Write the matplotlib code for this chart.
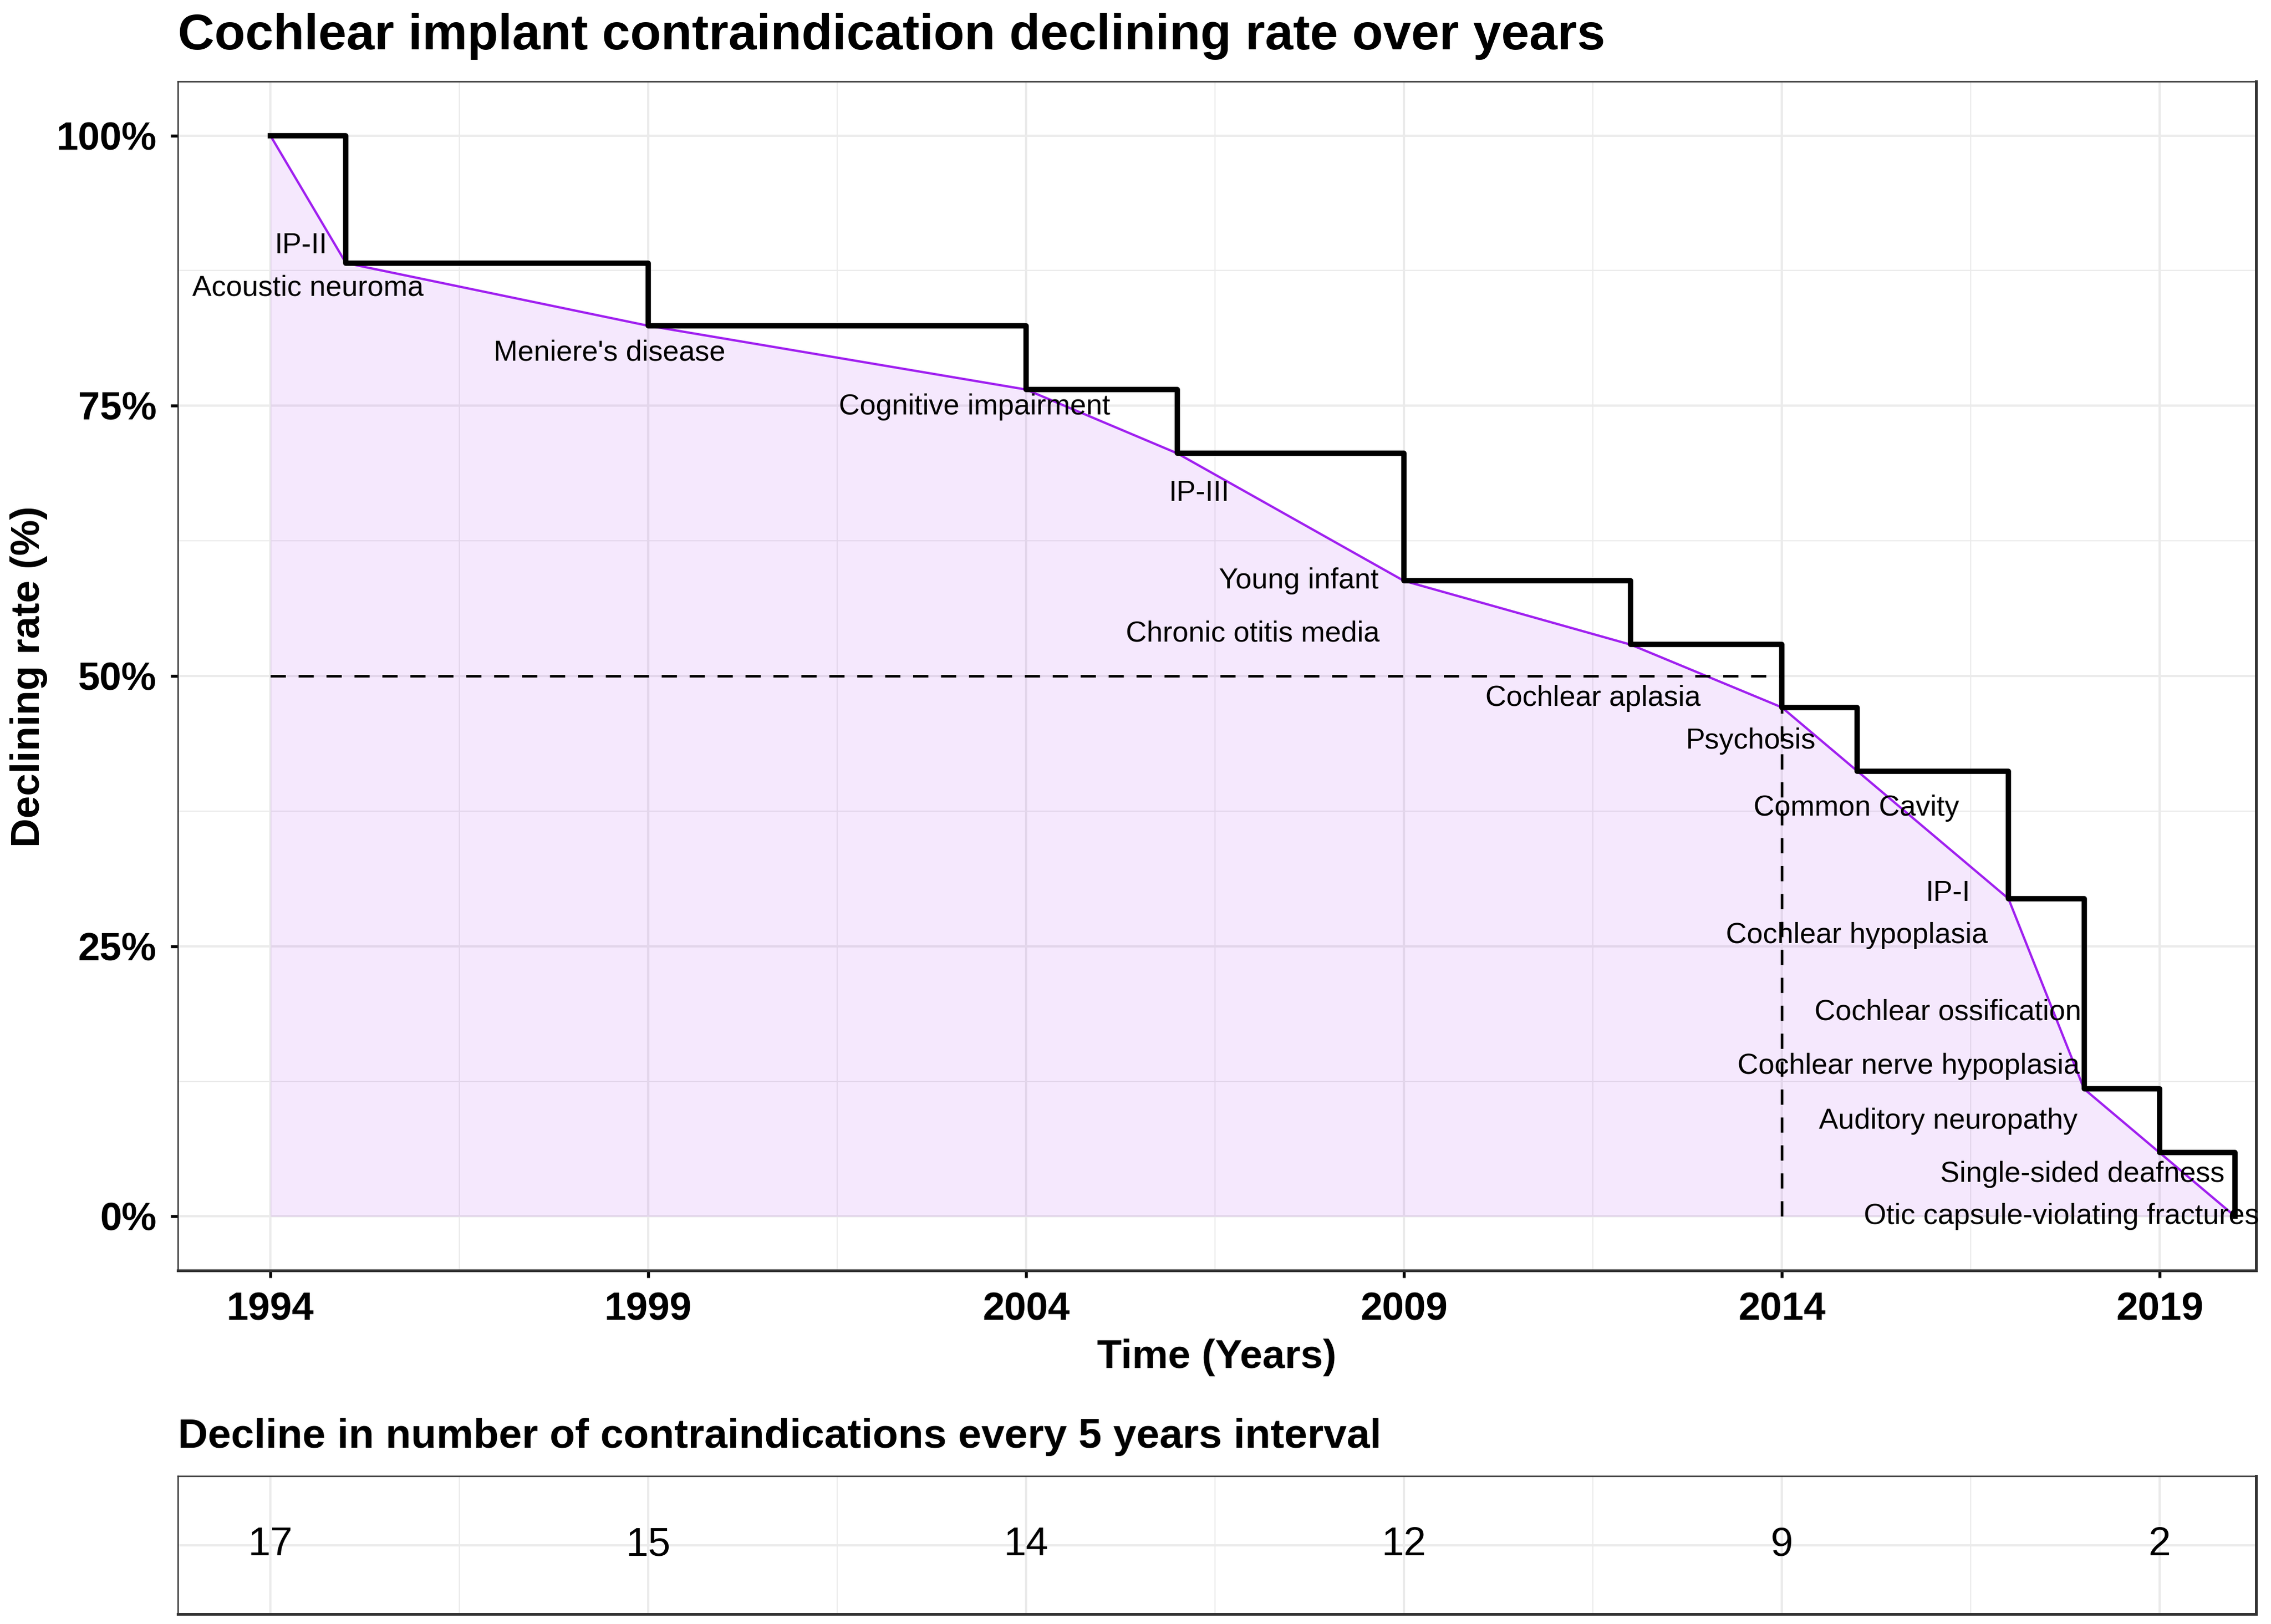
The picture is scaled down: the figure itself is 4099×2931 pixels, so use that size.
import matplotlib.pyplot as plt
import numpy as np

plt.rcParams['font.family'] = ['Liberation Sans', 'DejaVu Sans']

# share of the original 17 contraindications still in force (%)
years = [1994, 1995, 1999, 2004, 2006, 2009, 2012, 2014, 2015, 2017, 2018, 2019, 2020]
rate = [100, 88.2, 82.4, 76.5, 70.6, 58.8, 52.9, 47.1, 41.2, 29.4, 11.8, 5.9, 0]

# contraindication names, as placed on the chart
labels = ['IP-II', 'Acoustic neuroma', "Meniere's disease", 'Cognitive impairment',
          'IP-III', 'Young infant', 'Chronic otitis media', 'Cochlear aplasia',
          'Psychosis', 'Common Cavity', 'IP-I', 'Cochlear hypoplasia',
          'Cochlear ossification', 'Cochlear nerve hypoplasia', 'Auditory neuropathy',
          'Single-sided deafness', 'Otic capsule-violating fractures']
label_x = [1994.40, 1994.50, 1998.49, 2003.32, 2006.29, 2007.61, 2007.00, 2011.50,
           2013.59, 2014.99, 2016.20, 2014.99, 2016.20, 2015.68, 2016.20, 2017.98, 2017.70]
label_y = [89.8, 85.9, 79.9, 74.9, 66.9, 58.8, 53.9, 47.9,
           44.0, 37.8, 29.9, 26.0, 18.9, 13.9, 8.8, 3.9, 0.0]

# median survival marker
half_rate = 50
half_year = 2014

# remaining contraindications at each 5-year mark
interval_years = [1994, 1999, 2004, 2009, 2014, 2019]
interval_counts = [17, 15, 14, 12, 9, 2]

W, H = 4099, 2931
fig = plt.figure(figsize=(W / 300, H / 300), dpi=300)


def fx(px):
    return px / W


def fy(py):
    return 1 - py / H


left, right = 321, 4072
ax = fig.add_axes([fx(left), fy(2293), fx(right - left), (2293 - 147) / H])
ax2 = fig.add_axes([fx(left), fy(2913), fx(right - left), (2913 - 2664) / H])

xlim = (1992.776, 2020.276)
major_x = [1994, 1999, 2004, 2009, 2014, 2019]
minor_x = [1996.5, 2001.5, 2006.5, 2011.5, 2016.5]
grid_col = '#EBEBEB'
frame_col = '#333333'

for a in (ax, ax2):
    a.set_xlim(*xlim)
    a.set_axisbelow(True)
    a.set_xticks(major_x)
    a.set_xticks(minor_x, minor=True)
    a.grid(True, which='major', color=grid_col, lw=1.0)
    a.grid(True, which='minor', color=grid_col, lw=0.5)
    for s in ('top', 'left'):
        a.spines[s].set_linewidth(0.6)
        a.spines[s].set_color(frame_col)
    for s in ('bottom', 'right'):
        a.spines[s].set_linewidth(1.2)
        a.spines[s].set_color(frame_col)
    a.tick_params(which='minor', length=0)

# main panel
ax.set_ylim(-5, 105)
ax.set_yticks([0, 25, 50, 75, 100])
ax.set_yticks([12.5, 37.5, 62.5, 87.5], minor=True)
ax.set_yticklabels(['0%', '25%', '50%', '75%', '100%'])
ax.set_xticklabels([str(y) for y in major_x])
ax.tick_params(which='major', length=3.2, width=1.3, color='black', pad=6,
               labelsize=17)
for t in ax.get_xticklabels() + ax.get_yticklabels():
    t.set_fontweight('bold')

ax.fill_between(years, rate, 0, color='#A020F0', alpha=0.1, lw=0, zorder=2)
ax.plot(years, rate, color='#A020F0', lw=1.0, zorder=3)
ax.step(years, rate, where='post', color='black', lw=2.3, zorder=4)
ax.plot([years[0], half_year], [half_rate, half_rate], color='black', lw=1.1,
        ls=(0, (6, 5)), zorder=3)
ax.plot([half_year, half_year], [0, half_rate], color='black', lw=1.1,
        ls=(0, (6, 5)), zorder=3)

for name, lx, ly in zip(labels, label_x, label_y):
    ax.text(lx, ly, name, ha='center', va='center', fontsize=12.5, zorder=5)

# bottom table panel
ax2.set_ylim(0.4, 1.6)
ax2.set_yticks([1])
ax2.tick_params(which='major', length=0, labelbottom=False, labelleft=False)
for yr, n in zip(interval_years, interval_counts):
    ax2.text(yr, 1, str(n), ha='center', va='center', fontsize=17.5)

# titles
fig.text(fx(left), fy(65), 'Cochlear implant contraindication declining rate over years',
         ha='left', va='center', fontsize=21.9, fontweight='bold')
fig.text(fx((left + right) / 2), fy(2450), 'Time (Years)', ha='center', va='center',
         fontsize=17.5, fontweight='bold')
fig.text(fx(52), fy(1221), 'Declining rate (%)', ha='center', va='center',
         rotation=90, fontsize=17.5, fontweight='bold')
fig.text(fx(left), fy(2594), 'Decline in number of contraindications every 5 years interval',
         ha='left', va='center', fontsize=18, fontweight='bold')

fig.savefig('out.png', dpi=300)
